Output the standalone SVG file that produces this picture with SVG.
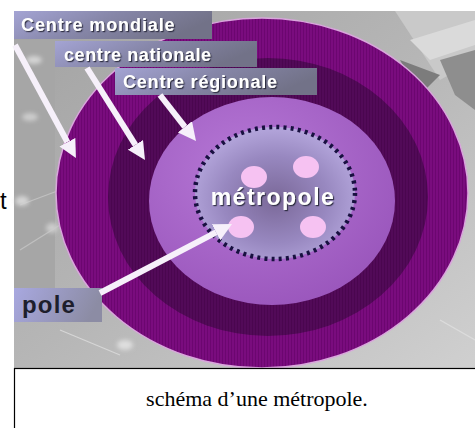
<svg xmlns="http://www.w3.org/2000/svg" width="475" height="428" viewBox="0 0 475 428">
<style>
.lbl{font-family:"Liberation Sans",Arial,sans-serif;font-weight:bold;fill:#ffffff;filter:url(#sh)}
.arrow{stroke:#f6f0fa;stroke-width:6;fill:none;marker-end:url(#head)}
.cap{font-family:"Liberation Serif","Times New Roman",serif;font-size:22px;fill:#000}
</style>
<defs>
<filter id="sh" x="-10%" y="-30%" width="120%" height="160%">
<feDropShadow dx="1.2" dy="1.2" stdDeviation="0.6" flood-color="#2a2a3a" flood-opacity="0.9"/>
</filter>
<filter id="blur" x="-50%" y="-50%" width="200%" height="200%"><feGaussianBlur stdDeviation="2"/></filter>
<marker id="head" viewBox="0 0 10 10" refX="0" refY="5" markerWidth="3" markerHeight="3" orient="auto" markerUnits="strokeWidth">
<path d="M0,0 L10,5 L0,10 Z" fill="#f6f0fa"/>
</marker>
<linearGradient id="bg" x1="0" y1="0" x2="1" y2="1">
<stop offset="0" stop-color="#a2a2a2"/>
<stop offset="0.5" stop-color="#b6b6b6"/>
<stop offset="1" stop-color="#d0d0d0"/>
</linearGradient>
<linearGradient id="box" x1="0" y1="0" x2="1" y2="0.3">
<stop offset="0" stop-color="#a4a4d4"/>
<stop offset="0.5" stop-color="#8686a8"/>
<stop offset="1" stop-color="#727288"/>
</linearGradient>
<linearGradient id="polebox" x1="0" y1="0" x2="1" y2="0.2">
<stop offset="0" stop-color="#a8a8e0"/>
<stop offset="1" stop-color="#8c8ca4"/>
</linearGradient>
<pattern id="stripes" width="3" height="3" patternUnits="userSpaceOnUse">
<rect width="3" height="3" fill="#7a0c7e"/>
<rect width="1" height="3" fill="#6c0670"/>
</pattern>
<pattern id="stripes2" width="3" height="3" patternUnits="userSpaceOnUse">
<rect width="3" height="3" fill="#520a58"/>
<rect width="1" height="3" fill="#4a064f"/>
</pattern>
<radialGradient id="light" cx="0.4" cy="0.35" r="0.7">
<stop offset="0" stop-color="#b678d6"/>
<stop offset="1" stop-color="#9a56bc"/>
</radialGradient>
<radialGradient id="metro" cx="0.5" cy="0.55" r="0.55">
<stop offset="0" stop-color="#7a6898"/>
<stop offset="0.6" stop-color="#9888c0"/>
<stop offset="1" stop-color="#b4a6dc"/>
</radialGradient>
</defs>

<rect width="475" height="428" fill="#ffffff"/>

<g id="background">
<rect x="14" y="11" width="461" height="358" fill="url(#bg)"/>
<polygon points="395,11 475,11 475,60 440,80" fill="#c9c9c9"/>
<polygon points="410,40 475,20 475,45 430,60" fill="#dadada"/>
<polygon points="440,60 475,50 475,110 455,95" fill="#8e8e8e"/>
<polygon points="400,60 440,75 420,95" fill="#7c7c7c"/>
<polygon points="14,40 55,40 55,300 14,300" fill="#a6a6a6"/>
<line x1="20" y1="250" x2="60" y2="225" stroke="#c0c0c0" stroke-width="1.2"/>
<line x1="20" y1="205" x2="60" y2="190" stroke="#c0c0c0" stroke-width="1.2"/>
<line x1="440" y1="320" x2="475" y2="340" stroke="#dcdcdc" stroke-width="1.2"/>
<line x1="60" y1="330" x2="120" y2="355" stroke="#d6d6d6" stroke-width="1.2"/>
<ellipse cx="22" cy="201" rx="7" ry="5" fill="#d4d4d4" filter="url(#blur)"/>
<ellipse cx="34" cy="60" rx="8" ry="4" fill="#d4d4d4" filter="url(#blur)"/>
<ellipse cx="30" cy="117" rx="8" ry="4" fill="#cccccc" filter="url(#blur)"/>
<ellipse cx="52" cy="228" rx="6" ry="5" fill="#cccccc" filter="url(#blur)"/>
<ellipse cx="125" cy="345" rx="8" ry="5" fill="#dedede" filter="url(#blur)"/>
</g>

<g id="centre-mondial-ring">
<ellipse cx="262" cy="193" rx="206" ry="175" fill="url(#stripes)" stroke="#d9a6dc" stroke-width="1.5"/>
</g>
<g id="centre-national-ring">
<ellipse cx="268" cy="197" rx="160" ry="139" fill="url(#stripes2)"/>
</g>
<g id="centre-regional-ring">
<ellipse cx="272" cy="201" rx="123" ry="104" fill="url(#light)"/>
</g>
<g id="metropole">
<ellipse cx="275" cy="193" rx="80" ry="66" fill="url(#metro)" stroke="#181040" stroke-width="4.5" stroke-dasharray="3 4.2" stroke-linecap="butt"/>
<ellipse cx="254" cy="177" rx="13" ry="11" fill="#f6c2f2"/>
<ellipse cx="306" cy="167" rx="13" ry="11" fill="#f6c2f2"/>
<ellipse cx="241" cy="227" rx="13" ry="11" fill="#f6c2f2"/>
<ellipse cx="313" cy="227" rx="13" ry="11" fill="#f6c2f2"/>
<text class="lbl" x="273" y="205" font-size="23" letter-spacing="1.5" text-anchor="middle">métropole</text>
</g>

<g id="label-mondiale">
<rect x="14" y="11" width="198" height="28" fill="url(#box)"/>
<text class="lbl" x="21" y="31" font-size="18" letter-spacing="0.9">Centre mondiale</text>
</g>
<g id="label-nationale">
<rect x="55" y="41" width="202" height="26" fill="url(#box)"/>
<text class="lbl" x="64" y="61" font-size="18" letter-spacing="0.6">centre nationale</text>
</g>
<g id="label-regionale">
<rect x="115" y="68" width="202" height="27" fill="url(#box)"/>
<text class="lbl" x="123" y="88" font-size="18" letter-spacing="0.8">Centre  régionale</text>
</g>
<g id="label-pole">
<rect x="14" y="288" width="88" height="34" fill="url(#polebox)"/>
<text x="22" y="313" font-family="Liberation Sans, Arial, sans-serif" font-weight="bold" font-size="24" letter-spacing="1.2" fill="#1e1e2c">pole</text>
</g>

<g id="connectors">
<line class="arrow" x1="15" y1="45" x2="67.4" y2="142.2"/>
<line class="arrow" x1="87" y1="68" x2="135.4" y2="144.8"/>
<line class="arrow" x1="160" y1="95" x2="184.9" y2="126.8"/>
<line class="arrow" x1="100" y1="293" x2="216.1" y2="232.3"/>
</g>

<g id="caption">
<rect x="14.5" y="368.5" width="470" height="70" fill="#ffffff" stroke="#000" stroke-width="1.2"/>
<text class="cap" x="257" y="406" text-anchor="middle">schéma d’une métropole.</text>
</g>
<text x="0" y="209" font-family="Liberation Sans, Arial, sans-serif" font-size="24" fill="#000">t</text>
</svg>
